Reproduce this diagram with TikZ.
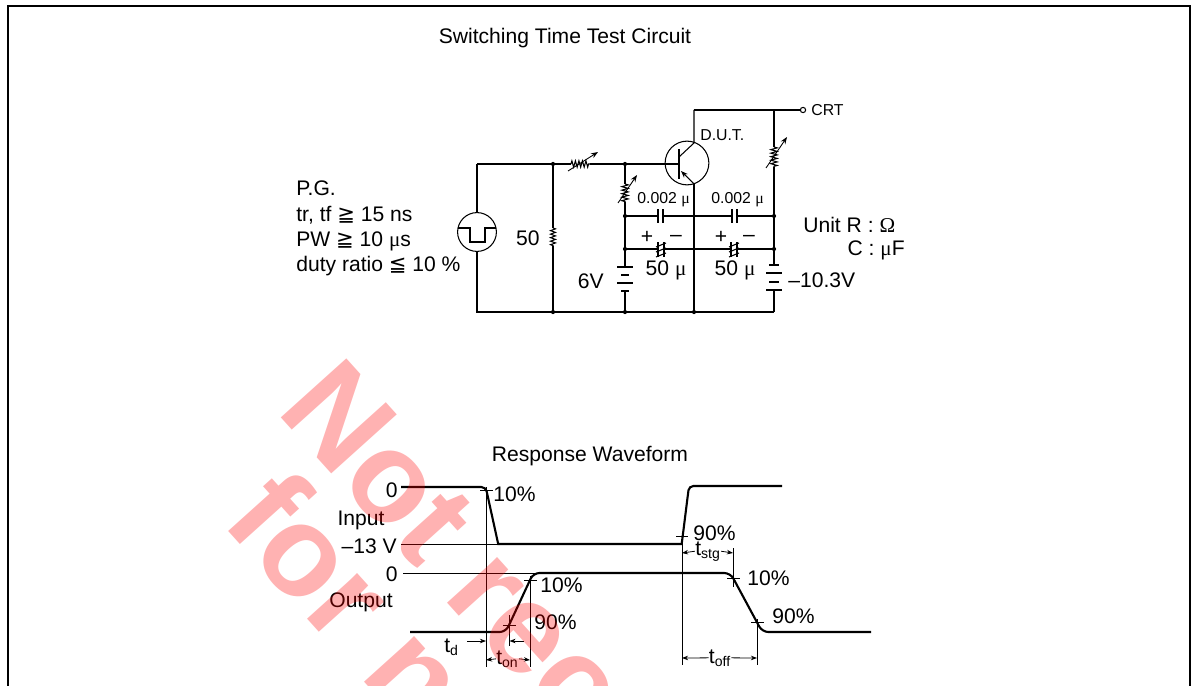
\documentclass[tikz,border=0pt]{standalone}
\usepackage{fontspec}
\setmainfont{Liberation Sans}
\newfontfamily\grkfont{Liberation Serif}
\newfontfamily\relfont{DejaVu Sans}
\usetikzlibrary{arrows.meta,decorations.pathmorphing}

\newcommand{\mic}{{\grkfont μ}}
\newcommand{\ohm}{{\grkfont Ω}}
\newcommand{\geqs}{{\relfont ≧}}
\newcommand{\leqs}{{\relfont ≦}}

\tikzset{
  wire/.style={line width=0.6pt},
  thinline/.style={line width=0.45pt},
  wave/.style={line width=1.2pt},
  res/.style={decorate,decoration={zigzag,segment length=2pt,amplitude=1.8pt}},
  varrow/.style={-{Stealth[length=4pt,width=3pt]},line width=0.5pt},
  tarrow/.style={-{Stealth[length=3.5pt,width=2.6pt]},line width=0.45pt},
  lbl/.style={inner sep=0pt,font=\fontsize{12}{14}\selectfont},
  small/.style={inner sep=0pt,font=\fontsize{9}{11}\selectfont},
  dot/.style={circle,fill,inner sep=0pt,minimum size=2.4pt},
  longplate/.style={line width=0.6pt},
  shortplate/.style={line width=1.2pt},
  wmark/.style={inner sep=0pt,text=red,text opacity=0.3,rotate=-48,
    font=\fontsize{73}{73}\bfseries\selectfont},
}

\begin{document}
\begin{tikzpicture}[x=0.02cm,y=-0.02cm]
\useasboundingbox (0,0) rectangle (1197,686);
% frame
\draw[line width=1.3pt] (8,686) -- (8,6) -- (1190,6) -- (1190,686);
\node[lbl,anchor=base] (title) at (565,44) {Switching Time Test Circuit};

% pulse generator text
\node[lbl,anchor=base west] (pg1) at (296,195) {P.G.};
\node[lbl,anchor=base west] (pg2) at (296,221.5) {tr, tf \geqs\ 15 ns};
\node[lbl,anchor=base west] (pg3) at (296,246.5) {PW \geqs\ 10 \mic s};
\node[lbl,anchor=base west] (pg4) at (296,271.5) {duty ratio \leqs\ 10 \%};

% junctions
\coordinate (pgT) at (477,164);
\coordinate (pgB) at (477,312);
\coordinate (jA) at (553,164);
\coordinate (jAb) at (553,312);
\coordinate (jB) at (625,164);
\coordinate (c1L) at (625,216);
\coordinate (c2L) at (625,249);
\coordinate (jBb) at (625,312);
\coordinate (emT) at (694,184);
\coordinate (emB) at (694,312);
\coordinate (colT) at (694,110);
\coordinate (rT) at (774,110);
\coordinate (c1R) at (774,216);
\coordinate (c2R) at (774,249);
\coordinate (rB) at (774,312);

% pulse generator
\node[draw,circle,wire,inner sep=0pt,minimum size=22.1pt] (pg) at (477,232) {};
\draw[wire] (pgT) -- (pg.north) (pg.south) -- (pgB) -- (rB);
\draw[line width=1pt] (458,228) -- (470,228) -- (470,242) -- (485,242) -- (485,228) -- (496,228);

% base line with variable resistor
\draw[wire] (pgT) -- (jA) -- (571,164);
\draw[wire,res] (571,164) -- (590,164);
\draw[wire] (590,164) -- (jB) -- (679,164);
\draw[varrow] (568,171) -- (598,152);

% 50 ohm
\draw[wire] (jA) -- (553,228);
\draw[wire,res,decoration={amplitude=1.4pt}] (553,228) -- (553,246);
\draw[wire] (553,246) -- (jAb);
\node[lbl,anchor=base east] (r50) at (540,245) {50};

% transistor
\node[draw,circle,wire,inner sep=0pt,minimum size=24.9pt] (dut) at (687,163) {};
\draw[line width=1pt] (679,149) -- (679,179);
\draw[wire] (679,157) -- (694,143) -- (colT);
\draw[wire] (emT) -- (emB);
\draw[wire,-{Stealth[length=4pt,width=3pt]}] (emT) -- (681,171);
\node[small,anchor=base west] (dutlbl) at (700,140) {D.U.T.};

% collector side
\node[draw,circle,wire,fill=white,inner sep=0pt,minimum size=3pt] (crt) at (803,110) {};
\draw[wire] (colT) -- (rT) -- (crt.west);
\node[small,anchor=base west] (crtlbl) at (811,115) {CRT};
\draw[wire] (rT) -- (774,147);
\draw[wire,res] (774,147) -- (774,167);
\draw[wire] (774,167) -- (c1R) -- (c2R) -- (774,265);
\draw[varrow] (766,168) -- (787,137);

% left bias resistor
\draw[wire] (jB) -- (625,184);
\draw[wire,res] (625,184) -- (625,202);
\draw[wire] (625,202) -- (c1L) -- (c2L) -- (625,267);
\draw[varrow] (618,203) -- (637,175);

% 0.002 caps
\draw[wire] (c1L) -- (658,216) (663,216) -- (732,216) (737,216) -- (c1R);
\draw[line width=0.9pt] (658,209) -- (658,223) (663,209) -- (663,223)
  (732,209) -- (732,223) (737,209) -- (737,223);
\node[small,anchor=base west] (c1a) at (637,203) {0.002 \mic};
\node[small,anchor=base west] (c1b) at (711,203) {0.002 \mic};

% 50 u caps
\draw[wire] (c2L) -- (658,249) (664,249) -- (731,249) (737,249) -- (c2R);
\foreach \cx in {658,731}{
  \draw[line width=0.8pt] (\cx,242) -- (\cx,257) (\cx+6,242) -- (\cx+6,257);
  \draw[line width=0.6pt] (\cx-2,247) -- (\cx+8,243) (\cx-2,252) -- (\cx+8,248)
    (\cx-2,257) -- (\cx+8,253);
}
\node[lbl,anchor=center] (p1) at (647,237) {+};
\node[lbl,anchor=center] (m1) at (676,238) {–};
\node[lbl,anchor=center] (p2) at (721,237) {+};
\node[lbl,anchor=center] (m2) at (749,238) {–};
\node[lbl,anchor=base] (c2a) at (666,275) {50 \mic};
\node[lbl,anchor=base] (c2b) at (735,275) {50 \mic};

% batteries
\draw[longplate] (617,267) -- (633,267) (617,283) -- (633,283);
\draw[shortplate] (621,275) -- (629,275) (621,291) -- (629,291);
\draw[wire] (625,291) -- (jBb);
\draw[shortplate] (769,265) -- (779,265) (769,282) -- (779,282);
\draw[longplate] (766,273) -- (782,273) (766,290) -- (782,290);
\draw[wire] (774,290) -- (rB);
\node[lbl,anchor=base east] (v6) at (604,288) {6V};
\node[lbl,anchor=base west] (v10) at (788,287) {–10.3V};

\foreach \j in {jA,jB,c1L,c2L,c1R,c2R,jAb,jBb,emB}
  \node[dot] at (\j) {};

\node[lbl,anchor=base west] (unitR) at (803,232) {Unit R : \ohm};
\node[lbl,anchor=base east] (unitC) at (905,255) {C : \mic F};

% response waveform
\node[lbl,anchor=base] (resp) at (590,461) {Response Waveform};
\node[lbl,anchor=base east] (in0) at (398,497) {0};
\node[lbl,anchor=base] (inlbl) at (361,525) {Input};
\node[lbl,anchor=base east] (in13) at (397,553) {–13 V};
\node[lbl,anchor=base east] (out0) at (398,581) {0};
\node[lbl,anchor=base] (outlbl) at (361,607) {Output};

% reference lines
\draw[thinline] (401,544) -- (682,544);
\draw[thinline] (403,573) -- (537,573);

% input
\draw[wave] (401,487) [rounded corners=2.5pt] -- (485.7,487) [sharp corners] -- (498.2,544)
  -- (681.7,544) [rounded corners=2.5pt] -- (689,486) -- (782,486);
% output
\draw[wave] (410,632) [rounded corners=3.5pt] -- (505.8,632) -- (533.3,573) -- (730.4,573)
  -- (762.2,632) -- (871,632);

% marker lines
\draw[thinline] (486,487) -- (486,667);
\draw[thinline] (509.5,615) -- (509.5,646);
\draw[thinline] (530,576) -- (530,667);
\draw[thinline] (682,537) -- (682,665);
\draw[thinline] (733,548) -- (733,587);
\draw[thinline] (757,619) -- (757,665);

% ticks
\draw[thinline] (480,490) -- (493,490);
\draw[thinline] (524,580) -- (537,580);
\draw[thinline] (503,625) -- (516,625);
\draw[thinline] (676,536) -- (688,536);
\draw[thinline] (727,578) -- (740,578);
\draw[thinline] (751,622) -- (764,622);

\node[lbl,anchor=base west] (p10a) at (493,501) {10\%};
\node[lbl,anchor=base west] (p10b) at (540,592) {10\%};
\node[lbl,anchor=base west] (p90b) at (534,629) {90\%};
\node[lbl,anchor=base west] (p90a) at (693,540) {90\%};
\node[lbl,anchor=base west] (p10c) at (747,585) {10\%};
\node[lbl,anchor=base west] (p90c) at (772,623) {90\%};

% times
\node[lbl,anchor=base west] (td) at (444,652) {t\textsubscript{d}};
\draw[tarrow] (467,641) -- (486,641);
\draw[tarrow] (524,641) -- (509.5,641);
\node[lbl,anchor=base] (ton) at (507.5,664) {t\textsubscript{on}};
\draw[tarrow] (ton.west) -- (486,660);
\draw[tarrow] (ton.east) -- (530,660);
\node[lbl,anchor=base] (tstg) at (708,555) {t\textsubscript{stg}};
\draw[tarrow] (tstg.west) -- (682,553);
\draw[tarrow] (tstg.east) -- (733,553);
\node[lbl,anchor=base] (toff) at (720,663) {t\textsubscript{off}};
\draw[tarrow] (toff.west) -- (682,658);
\draw[tarrow] (toff.east) -- (757,658);

% watermark
\begin{scope}
\clip (0,0) rectangle (1197,686);
\node[wmark,anchor=base west] (wm1) at (275,411) {Not recommended};
\node[wmark,anchor=base west] (wm2) at (220,522) {for new design};
\end{scope}
\end{tikzpicture}
\end{document}
